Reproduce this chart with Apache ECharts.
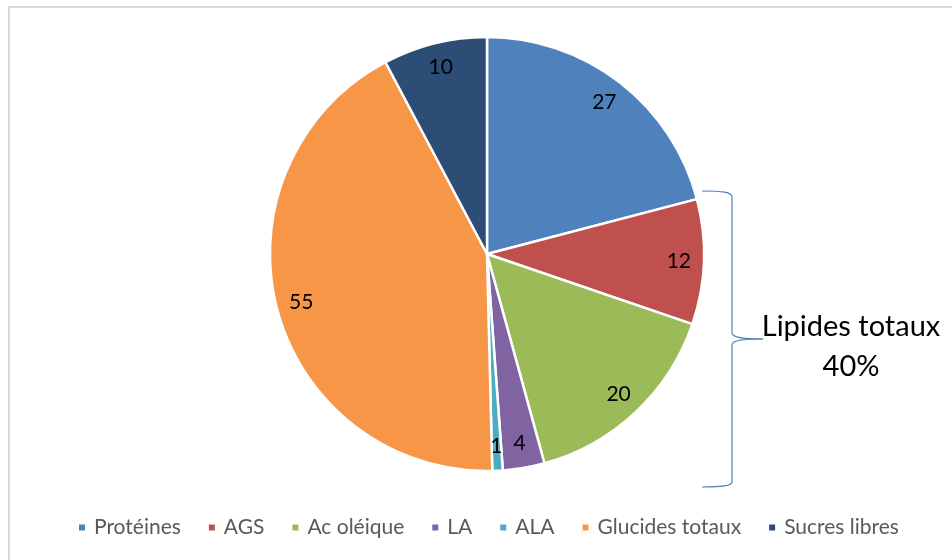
<!DOCTYPE html>
<html>
<head>
<meta charset="utf-8">
<script src="https://cdn.jsdelivr.net/npm/echarts@6/dist/echarts.min.js"></script>
<style>
  html, body { margin: 0; padding: 0; background: #ffffff; }
  #chart { width: 952px; height: 560px; }
</style>
</head>
<body>
<div id="chart"></div>
<script>
// données du graphique
const categories = ['Protéines', 'AGS', 'Ac oléique', 'LA', 'ALA', 'Glucides totaux', 'Sucres libres'];
const values = [27, 12, 20, 4, 1, 55, 10];
const colors = ['#4F81BD', '#C0504D', '#9BBB59', '#8064A2', '#4BACC6', '#F79646', '#2C4D75'];
const braceText = ['Lipides totaux', '40%'];

const pieData = categories.map((name, i) => ({ name: name, value: values[i] }));

// accolade "Lipides totaux"
const braceStyle = { fill: 'none', stroke: '#4F81BD', lineWidth: 1.2 };
const brace = [
  { type: 'bezierCurve', shape: { x1: 702, y1: 191, cpx1: 722, cpy1: 191, cpx2: 732, cpy2: 192, x2: 732, y2: 197 } },
  { type: 'line', shape: { x1: 732, y1: 197, x2: 732, y2: 333 } },
  { type: 'bezierCurve', shape: { x1: 732, y1: 333, cpx1: 732, cpy1: 338, cpx2: 745, cpy2: 339, x2: 763, y2: 339 } },
  { type: 'bezierCurve', shape: { x1: 763, y1: 339, cpx1: 745, cpy1: 339, cpx2: 732, cpy2: 340, x2: 732, y2: 345 } },
  { type: 'line', shape: { x1: 732, y1: 345, x2: 732, y2: 482 } },
  { type: 'bezierCurve', shape: { x1: 732, y1: 482, cpx1: 732, cpy1: 486, cpx2: 722, cpy2: 487, x2: 702, y2: 487 } }
].map(el => Object.assign(el, { style: braceStyle, silent: true }));

const chart = echarts.init(document.getElementById('chart'));
chart.setOption({
  animation: false,
  color: colors,
  legend: {
    data: categories,
    left: 72,
    top: 512,
    itemWidth: 8,
    itemHeight: 8,
    itemGap: 26,
    icon: 'rect',
    textStyle: { fontFamily: 'Lato', fontSize: 21, color: '#595959', padding: [0, 0, 0, 3] }
  },
  series: [
    {
      // camembert principal
      type: 'pie',
      center: [487, 254],
      radius: [0, 217],
      startAngle: 90,
      clockwise: true,
      itemStyle: { borderColor: '#ffffff', borderWidth: 2.5 },
      label: { show: false },
      labelLine: { show: false },
      emphasis: { disabled: true },
      data: pieData
    },
    {
      // série transparente juste pour placer les étiquettes
      type: 'pie',
      silent: true,
      center: [487, 254],
      radius: [160, 218],
      startAngle: 90,
      clockwise: true,
      itemStyle: { color: 'rgba(0,0,0,0)' },
      label: {
        show: true,
        position: 'inside',
        formatter: '{c}',
        fontFamily: 'Lato',
        fontSize: 21,
        color: '#000000'
      },
      labelLine: { show: false },
      emphasis: { disabled: true },
      data: pieData
    }
  ],
  graphic: [
    {
      type: 'rect',
      shape: { x: 9, y: 7, width: 960, height: 560 },
      style: { fill: 'none', stroke: '#d9d9d9', lineWidth: 2 },
      silent: true
    }
  ].concat(brace, [
    {
      type: 'text',
      x: 851,
      y: 307,
      style: {
        text: braceText.join('\n'),
        fontFamily: 'Lato',
        fontSize: 29,
        lineHeight: 40,
        fill: '#000000',
        align: 'center'
      },
      silent: true
    }
  ])
});
</script>
</body>
</html>
